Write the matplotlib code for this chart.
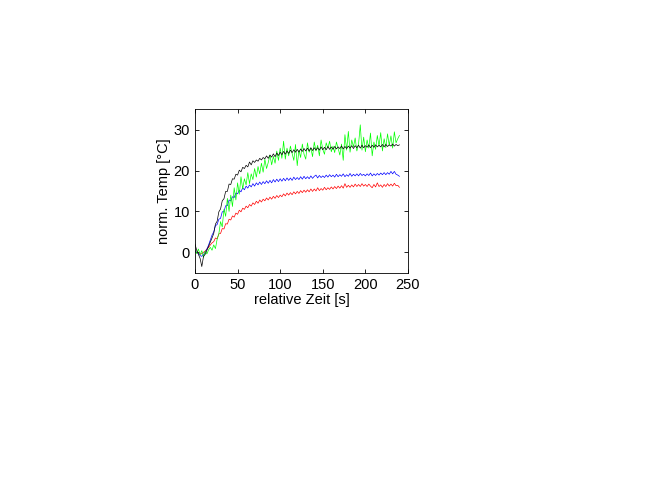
import numpy as np
import matplotlib.pyplot as plt

plt.rcParams['font.family'] = ['Liberation Sans', 'DejaVu Sans']

# Messzeitpunkte [s]
zeit = np.arange(0, 241, 2)

temp_rot = [0.2, 0.0, -0.2, -0.5, -0.3, 0.0, 0.3, 0.8, 1.2, 1.8, 2.3,
            2.6, 3.5, 3.3, 4.5, 4.6, 5.8, 5.7, 7.0, 6.9, 8.1,
            7.9, 8.9, 8.6, 9.6, 9.3, 10.3, 9.9, 10.8, 10.5, 11.3,
            10.9, 11.7, 11.3, 12.1, 11.7, 12.5, 12.0, 12.8, 12.3, 13.0,
            12.6, 13.3, 12.8, 13.5, 13.0, 13.7, 13.2, 13.9, 13.4, 14.0,
            13.6, 14.3, 13.8, 14.5, 14.0, 14.6, 14.1, 14.8, 14.3, 14.9,
            14.4, 15.1, 14.6, 15.2, 14.7, 15.3, 14.8, 15.5, 14.9, 15.5,
            15.0, 15.8, 15.1, 15.6, 15.2, 15.9, 15.3, 15.8, 15.4, 16.0,
            15.5, 16.1, 15.6, 16.2, 15.7, 16.3, 15.7, 16.8, 15.9, 16.4,
            15.9, 16.5, 16.0, 16.7, 16.1, 16.6, 16.1, 16.8, 16.2, 16.6,
            16.1, 16.7, 16.2, 15.8, 16.6, 16.0, 17.0, 16.1, 16.5, 15.9,
            16.6, 16.1, 16.8, 16.2, 16.7, 16.2, 16.9, 16.3, 16.4, 15.9]

temp_blau = [0.3, 0.0, -0.3, -0.8, -1.0, -0.5, 0.0, 0.8, 1.8, 3.0, 4.2,
             5.0, 6.5, 6.8, 8.1, 8.3, 9.9, 10.0, 11.4, 11.4, 12.8,
             12.6, 13.6, 13.4, 14.5, 14.3, 15.2, 14.8, 15.8, 15.3, 16.2,
             15.7, 16.5, 16.0, 16.8, 16.2, 17.0, 16.5, 17.2, 16.6, 17.3,
             16.8, 17.5, 16.9, 17.6, 17.0, 17.8, 17.2, 17.9, 17.3, 18.0,
             17.4, 18.1, 17.5, 18.2, 17.6, 18.2, 17.6, 18.4, 17.8, 18.3,
             17.8, 18.5, 17.9, 18.6, 18.0, 18.5, 18.0, 18.7, 18.1, 18.6,
             18.9, 18.2, 18.8, 18.3, 18.7, 18.3, 18.9, 18.4, 19.0, 18.5,
             18.9, 18.4, 19.1, 18.5, 19.0, 18.6, 19.2, 18.5, 19.0, 18.6,
             19.3, 18.6, 19.1, 18.7, 19.2, 18.7, 19.3, 18.8, 19.1, 18.7,
             19.2, 18.8, 19.4, 18.7, 19.2, 18.8, 19.3, 18.9, 19.4, 19.0,
             19.5, 19.0, 19.5, 19.1, 19.8, 19.2, 19.8, 19.1, 18.9, 18.6]

temp_gruen = [0.5, -0.3, 0.8, -0.6, 0.4, -1.2, 0.3, -0.4, 0.6, 1.2, 0.5,
              1.8, 0.9, 3.2, 4.5, 7.5, 6.2, 10.5, 8.8, 13.2, 10.0,
              14.0, 11.2, 15.8, 12.8, 17.0, 14.2, 18.5, 15.5, 18.0, 16.5,
              19.5, 16.8, 19.2, 17.8, 20.5, 18.4, 21.0, 19.2, 21.8, 19.6,
              22.8, 20.5, 22.0, 23.8, 21.4, 23.5, 21.8, 24.8, 22.5, 25.5,
              23.0, 27.2, 22.8, 25.5, 23.6, 26.0, 24.2, 22.5, 26.4, 21.2,
              25.0, 23.2, 26.5, 24.0, 22.8, 26.8, 24.5, 25.5, 23.4, 27.0,
              24.8, 26.2, 23.6, 27.5, 25.2, 24.0, 26.8, 25.5, 27.2, 24.6,
              26.0, 24.4, 27.0, 25.5, 23.8, 26.5, 22.5, 28.8, 25.0, 29.6,
              24.5, 27.5, 25.8, 28.0, 24.8, 26.5, 31.2, 25.0, 28.2, 24.6,
              27.5, 25.5, 29.2, 23.6, 27.0, 25.2, 28.6, 26.0, 29.3, 24.8,
              27.8, 25.6, 29.0, 26.2, 28.5, 25.5, 29.5, 26.8, 27.8, 28.6]

temp_schwarz = [2.0, 0.5, -0.5, -1.5, -3.5, -1.0, -0.5, 0.5, 1.5, 2.5, 3.5,
                4.6, 6.9, 7.6, 9.9, 10.6, 12.6, 13.1, 14.9, 14.9, 16.7,
                16.6, 18.0, 17.9, 19.1, 18.9, 20.1, 19.7, 20.8, 20.5, 21.3,
                20.9, 22.1, 21.4, 22.4, 22.0, 22.6, 22.3, 23.0, 22.6, 23.2,
                22.9, 23.6, 23.0, 23.8, 23.3, 24.1, 23.4, 24.3, 23.7, 24.5,
                23.9, 24.7, 24.0, 24.8, 24.2, 25.0, 24.4, 25.1, 24.5, 25.2,
                24.5, 25.3, 24.7, 25.4, 24.8, 25.5, 24.8, 25.6, 24.9, 25.6,
                25.0, 25.6, 25.0, 25.8, 25.1, 25.7, 25.1, 25.9, 25.2, 25.8,
                25.2, 25.9, 25.3, 25.8, 25.4, 26.0, 25.3, 25.9, 25.4, 26.0,
                25.5, 26.1, 25.4, 26.1, 25.6, 26.2, 25.5, 26.2, 25.6, 26.1,
                25.7, 26.3, 25.6, 26.2, 25.7, 26.3, 25.8, 26.2, 25.8, 26.4,
                25.8, 26.4, 25.9, 26.3, 26.0, 26.5, 26.0, 26.4, 26.1, 26.3]

fig = plt.figure(figsize=(6.48, 4.78), dpi=100)
ax = fig.add_axes([0.3009, 0.4295, 0.3287, 0.3418])

ax.plot(zeit, temp_rot, color='r', lw=0.5)
ax.plot(zeit, temp_blau, color='b', lw=0.5)
ax.plot(zeit, temp_gruen, color='#00ff00', lw=0.5)
ax.plot(zeit, temp_schwarz, color='k', lw=0.5)

ax.set_xlim(0, 250)
ax.set_ylim(-5, 35)
ax.set_xticks([0, 50, 100, 150, 200, 250])
ax.set_yticks([0, 10, 20, 30])
ax.tick_params(direction='in', top=True, right=True, length=3, width=0.6,
               labelsize=10.5)
for s in ax.spines.values():
    s.set_linewidth(0.6)
ax.set_xlabel('relative Zeit [s]', fontsize=10.5, labelpad=1)
ax.set_ylabel('norm. Temp [°C]', fontsize=10.5, labelpad=2)

fig.savefig('out.png', dpi=100)
